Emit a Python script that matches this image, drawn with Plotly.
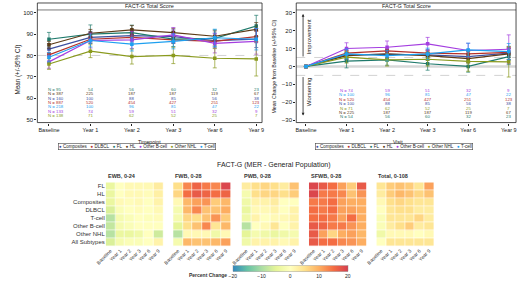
import plotly.graph_objects as go

W, H = 520, 286
def fx(px): return px / W
def fy(py): return 1 - py / H

FONT = "Liberation Sans"

# ---------------- data ----------------
timepoints = ["Baseline", "Year 1", "Year 2", "Year 3", "Year 6", "Year 9"]
groups = ["Composites", "DLBCL", "FL", "HL", "Other B-cell", "Other NHL", "T-cell"]
group_colors = ["#3D4FA0", "#B5312A", "#1F7A6C", "#5C3A17", "#A43DE0", "#8A9A1E", "#1EA0F0"]

# Left panel: mean FACT-G total score
mean_composites = [83.0, 88.5, 89.3, 88.8, 87.0, 87.7]
mean_dlbcl      = [80.3, 87.6, 88.5, 87.3, 86.6, 88.8]
mean_fl         = [87.6, 90.0, 90.7, 87.7, 88.0, 93.8]
mean_hl         = [85.0, 90.4, 92.0, 90.7, 89.0, 92.2]
mean_obc        = [77.0, 87.0, 87.3, 89.6, 85.7, 86.6]
mean_onhl       = [76.0, 82.0, 79.5, 80.0, 78.7, 78.4]
mean_tcell      = [79.2, 87.0, 85.3, 86.6, 88.3, 87.6]

ci_composites = [2.5, 2.8, 3.0, 3.2, 3.5, 4.0]
ci_dlbcl      = [1.0, 1.2, 1.3, 1.4, 1.8, 2.5]
ci_fl         = [3.2, 4.3, 3.5, 3.5, 4.0, 5.0]
ci_hl         = [1.6, 1.8, 2.0, 2.0, 2.5, 3.2]
ci_obc        = [3.0, 3.5, 4.0, 3.5, 4.5, 6.0]
ci_onhl       = [2.5, 3.0, 3.5, 3.8, 4.5, 8.0]
ci_tcell      = [2.2, 3.0, 3.2, 3.5, 4.0, 5.0]

# Right panel: mean change from baseline
chg_composites = [0, 6.5, 6.8, 6.5, 5.5, 7.4]
chg_dlbcl      = [0, 7.4, 8.7, 7.4, 7.0, 7.8]
chg_fl         = [0, 3.0, 3.7, 1.5, 0.0, 5.5]
chg_hl         = [0, 6.0, 7.0, 6.0, 4.4, 7.0]
chg_obc        = [0, 10.0, 10.7, 12.6, 8.9, 9.6]
chg_onhl       = [0, 5.2, 3.7, 4.0, 2.8, 2.6]
chg_tcell      = [0, 7.0, 6.0, 7.0, 9.2, 8.3]

cci_composites = [0, 2.5, 2.8, 3.0, 3.3, 3.8]
cci_dlbcl      = [0, 1.3, 1.4, 1.5, 2.0, 2.8]
cci_fl         = [0, 3.8, 3.0, 3.6, 3.2, 4.5]
cci_hl         = [0, 1.8, 2.0, 2.0, 2.5, 3.2]
cci_obc        = [0, 3.2, 3.5, 3.6, 4.0, 8.0]
cci_onhl       = [0, 3.3, 3.5, 3.8, 5.5, 8.5]
cci_tcell      = [0, 2.8, 3.0, 3.2, 3.8, 4.5]

# N at risk tables
n_left_groups = ["FL", "HL", "Composites", "DLBCL", "T-cell", "Other B-cell", "Other NHL"]
n_left = [
    [95, 54, 56, 60, 32, 23],
    [387, 225, 187, 187, 119, 67],
    [160, 100, 88, 85, 56, 38],
    [887, 520, 454, 427, 251, 123],
    [218, 100, 96, 81, 47, 22],
    [133, 74, 59, 51, 32, 9],
    [138, 71, 62, 52, 25, 7],
]
n_right_groups = ["Other B-cell", "T-cell", "DLBCL", "Composites", "Other NHL", "HL", "FL"]
n_right = [
    [74, 59, 51, 32, 9],
    [100, 96, 81, 47, 22],
    [520, 454, 427, 251, 123],
    [100, 88, 85, 56, 38],
    [71, 62, 52, 25, 7],
    [225, 187, 187, 119, 67],
    [54, 56, 60, 32, 23],
]

# Heatmaps: percent change vs general population
subtypes = ["FL", "HL", "Composites", "DLBCL", "T-cell", "Other B-cell", "Other NHL", "All Subtypes"]
panel_titles = ["EWB, 0-24", "FWB, 0-28", "PWB, 0-28", "SFWB, 0-28", "Total, 0-108"]
ewb = [
    [-4, 0, 1, 1, 1, 3],
    [-4, 0, 1, 1, 0.5, 2.5],
    [-4, 1, 0.5, 1, 0, 2],
    [-6, -1, 0, 0.5, 0, 1],
    [-9, -2, -1, 0, -0.5, 0.5],
    [-8, -2, -1, 0, 0, 0],
    [-9, -4, -4, -3, 0, -7],
    [-6, -2, -1, -1, 0, 2],
]
fwb = [
    [5, 13, 16, 14, 13, 19],
    [6, 15, 17, 16, 15, 16],
    [1, 9, 11, 12, 7, 9],
    [-2, 9, 13, 8, 8, 10],
    [-2, 6, 5, 8, 12, 7],
    [-5, 5, 8, 13, 4, 9],
    [-9, 1, 1, 1, -3, 1],
    [-2, 9, 8, 8, 9, 11],
]
pwb = [
    [3, 5, 6, 5, 3, 8],
    [-2, 5, 6, 6, 5, 7],
    [-3, 2, 2, 3, 0, 0],
    [-4, 1, 1, 2, 0, 2],
    [-3, 2, 0, 1, 1, 2],
    [-9, 0, 1, 4, 0, 2],
    [-5, -2, -3, -4, -3, -2],
    [-3, 2, 2, 2, 1, 2],
]
sfwb = [
    [19, 17, 15, 11, 7, 17],
    [19, 14, 14, 13, 8, 12],
    [14, 14, 15, 11, 10, 10],
    [15, 14, 15, 11, 11, 10],
    [15, 15, 14, 11, 15, 10],
    [17, 16, 14, 14, 12, 10],
    [17, 11, 6, 10, 11, 9],
    [17, 15, 15, 13, 12, 10],
]
total = [
    [4, 7, 8, 7, 4, 11],
    [3, 7, 9, 8, 6, 8],
    [1, 5, 6, 5, 4, 4],
    [0, 4, 5, 5, 3, 3],
    [-1, 4, 4, 4, 6, 3],
    [-1, 3, 5, 7, 3, 4],
    [-3, 1, 1, 1, 0, 1],
    [0, 4, 4, 4, 4, 4],
]
cbar_ticks = [-20, -10, 0, 10, 20]

means = [mean_composites, mean_dlbcl, mean_fl, mean_hl, mean_obc, mean_onhl, mean_tcell]
cis = [ci_composites, ci_dlbcl, ci_fl, ci_hl, ci_obc, ci_onhl, ci_tcell]
chgs = [chg_composites, chg_dlbcl, chg_fl, chg_hl, chg_obc, chg_onhl, chg_tcell]
ccis = [cci_composites, cci_dlbcl, cci_fl, cci_hl, cci_obc, cci_onhl, cci_tcell]
heat = [ewb, fwb, pwb, sfwb, total]
color_of = dict(zip(groups, group_colors))

spectral_r = [[0.0, "#3288bd"], [0.125, "#66c2a5"], [0.25, "#abdda4"], [0.375, "#e6f598"],
              [0.5, "#ffffbf"], [0.625, "#fee08b"], [0.75, "#fdae61"], [0.875, "#f46d43"], [1.0, "#d53e4f"]]

fig = go.Figure()

# line panels
for g, c, m, e, ch, ce in zip(groups, group_colors, means, cis, chgs, ccis):
    fig.add_trace(go.Scatter(
        x=timepoints, y=m, mode="lines+markers", name=g, showlegend=False,
        line=dict(color=c, width=1.2), marker=dict(symbol="square", size=3.5, color=c),
        error_y=dict(type="data", array=e, color=c, thickness=0.7, width=2),
        xaxis="x", yaxis="y"))
    fig.add_trace(go.Scatter(
        x=timepoints, y=ch, mode="lines+markers", name=g, showlegend=False,
        line=dict(color=c, width=1.2), marker=dict(symbol="square", size=3.5, color=c),
        error_y=dict(type="data", array=ce, color=c, thickness=0.7, width=2),
        xaxis="x2", yaxis="y2"))

# heatmaps
for i, z in enumerate(heat):
    fig.add_trace(go.Heatmap(
        z=z, x=timepoints, y=subtypes, coloraxis="coloraxis", xgap=0.6, ygap=0.6,
        xaxis=f"x{i+3}", yaxis=f"y{i+3}", hoverinfo="skip"))

tickfont = dict(family=FONT, size=5.5, color="#222")
ax_common = dict(showgrid=False, zeroline=False, showline=False, ticks="outside",
                 ticklen=2, tickwidth=0.6, tickcolor="#222", tickfont=tickfont)

ydom = [fy(123), fy(10)]
layout = dict(
    width=W, height=H, margin=dict(l=0, r=0, t=0, b=0),
    paper_bgcolor="white", plot_bgcolor="white", showlegend=False,
    font=dict(family=FONT, color="#222"),
    xaxis=dict(domain=[fx(28), fx(258)], anchor="y", type="category",
               categoryorder="array", categoryarray=timepoints,
               range=[-0.28, 5.14], **ax_common),
    yaxis=dict(domain=ydom, anchor="x", range=[48.6, 101.3],
               tickvals=[50, 60, 70, 80, 90, 100], **{**ax_common, "tickfont": dict(family=FONT, size=6, color="#222")}),
    xaxis2=dict(domain=[fx(293), fx(518)], anchor="y2", type="category",
                categoryorder="array", categoryarray=timepoints,
                range=[-0.24, 5.18], **ax_common),
    yaxis2=dict(domain=ydom, anchor="x2", range=[-31.3, 31.5],
                tickvals=[-30, -20, -10, 0, 10, 20, 30], **{**ax_common, "tickfont": dict(family=FONT, size=6, color="#222")}),
    coloraxis=dict(colorscale=spectral_r, cmin=-20, cmax=20,
                   colorbar=dict(orientation="h", x=fx(228), xanchor="left",
                                 y=fy(279), yanchor="bottom", len=118 / W, lenmode="fraction",
                                 thickness=6, thicknessmode="pixels", xpad=0, ypad=0,
                                 tickvals=cbar_ticks, ticks="", outlinewidth=0.4,
                                 outlinecolor="#888",
                                 tickfont=dict(family=FONT, size=5, color="#222"))),
)
hx = [98, 167, 237, 306, 375]
hw = 59
for i, x0 in enumerate(hx):
    layout[f"xaxis{i+3}"] = dict(domain=[fx(x0), fx(x0 + hw)], anchor=f"y{i+3}",
                                 showgrid=False, zeroline=False, showline=False,
                                 ticks="", tickangle=-45,
                                 tickfont=dict(family=FONT, size=5, color="#333"))
    layout[f"yaxis{i+3}"] = dict(domain=[fy(247), fy(183)], anchor=f"x{i+3}",
                                 autorange="reversed", showgrid=False, zeroline=False,
                                 showline=False, ticks="", showticklabels=(i == 0),
                                 tickfont=dict(family=FONT, size=6, color="#333"))
fig.update_layout(**layout)

shapes = []
# frames and title strips
for x0, x1 in [(28, 258), (293, 518)]:
    shapes.append(dict(type="rect", xref="paper", yref="paper", x0=fx(x0), x1=fx(x1),
                       y0=fy(123), y1=fy(3), line=dict(color="#222", width=0.8)))
    shapes.append(dict(type="line", xref="paper", yref="paper", x0=fx(x0), x1=fx(x1),
                       y0=fy(10), y1=fy(10), line=dict(color="#222", width=0.6)))
shapes.append(dict(type="line", xref="x domain", yref="y", x0=0, x1=1, y0=80, y1=80,
                   line=dict(color="#c8c8c8", width=0.8, dash="dash"), layer="below"))
shapes.append(dict(type="line", xref="x2 domain", yref="y2", x0=0, x1=1, y0=0, y1=0,
                   line=dict(color="#d8d8d8", width=2.5), layer="below"))
for v in (5, -5):
    shapes.append(dict(type="line", xref="x2 domain", yref="y2", x0=0, x1=1, y0=v, y1=v,
                       line=dict(color="#c8c8c8", width=0.8, dash="dash"), layer="below"))
fig.update_layout(shapes=shapes)

ann = []
def text(x, y, s, size, xanchor="center", angle=0, color="#222", **kw):
    ann.append(dict(x=x, y=y, xref="paper", yref="paper", text=s, showarrow=False,
                    xanchor=xanchor, yanchor="middle", textangle=angle,
                    font=dict(family=FONT, size=size, color=color), **kw))

text(fx(143), fy(6.5), "FACT-G Total Score", 5.5)
text(fx(405.5), fy(6.5), "FACT-G Total Score", 5.5)
text(fx(8), fy(70), "Mean (+/-95% CI)", 6.3, angle=-90)
text(fx(270), fy(67), "Mean Change from Baseline (+/-95% CI)", 5.2, angle=-90)
text(fx(143), fy(142), "Timepoint", 5.2)
text(fx(397), fy(142), "Visit", 5.2)
text(fx(305.5), fy(37), "Improvement", 6, angle=-90)
text(fx(305.5), fy(92), "Worsening", 6, angle=-90)

# arrows
ann.append(dict(x=fx(300), y=fy(14), xref="paper", yref="paper", ax=0, ay=44,
                axref="pixel", ayref="pixel", text="", showarrow=True,
                arrowhead=2, arrowsize=0.7, arrowwidth=0.8, arrowcolor="#222"))
ann.append(dict(x=fx(300), y=fy(116), xref="paper", yref="paper", ax=0, ay=-40,
                axref="pixel", ayref="pixel", text="", showarrow=True,
                arrowhead=2, arrowsize=0.7, arrowwidth=0.8, arrowcolor="#222"))

# legends
sep = "&nbsp;&nbsp;&nbsp;"
leg = sep.join(f"<span style='color:{c}'>●</span> {g}" for g, c in zip(groups, group_colors))
for cx in (129.5, 393):
    ann.append(dict(x=fx(cx), y=fy(147.5), xref="paper", yref="paper", text=leg,
                    showarrow=False, xanchor="center", yanchor="middle",
                    bordercolor="#444", borderwidth=0.6, borderpad=0.5,
                    font=dict(family=FONT, size=4.5, color="#222")))

# N tables
NF = 4.3
for r, (g, row) in enumerate(zip(n_left_groups, n_left)):
    yv = 64 - 2.0 * r
    for j, n in enumerate(row):
        if j == 0:
            ann.append(dict(x=timepoints[0], y=yv, xref="x", yref="y", text=f"N = {n}",
                            showarrow=False, xanchor="left", yanchor="middle", xshift=-3,
                            font=dict(family=FONT, size=NF, color=color_of[g])))
        else:
            ann.append(dict(x=timepoints[j], y=yv, xref="x", yref="y", text=str(n),
                            showarrow=False, xanchor="center", yanchor="middle",
                            font=dict(family=FONT, size=NF, color=color_of[g])))
for r, (g, row) in enumerate(zip(n_right_groups, n_right)):
    yv = -13.3 - 2.47 * r
    for j, n in enumerate(row):
        s = f"N = {n}" if j == 0 else str(n)
        ann.append(dict(x=timepoints[j + 1], y=yv, xref="x2", yref="y2", text=s,
                        showarrow=False, xanchor="center", yanchor="middle",
                        font=dict(family=FONT, size=NF, color=color_of[g])))

# heatmap titles
text(fx(270), fy(166), "FACT-G (MER - General Population)", 7)
for x0, t in zip(hx, panel_titles):
    text(fx(x0), fy(177), f"<b>{t}</b>", 5.5, xanchor="left", color="#333")
text(fx(224), fy(276), "<b>Percent Change</b>", 5, xanchor="right", color="#333")

fig.update_layout(annotations=ann)
fig.write_html("out.html", config={"displayModeBar": False},
               post_script="document.body.style.margin='0';")
